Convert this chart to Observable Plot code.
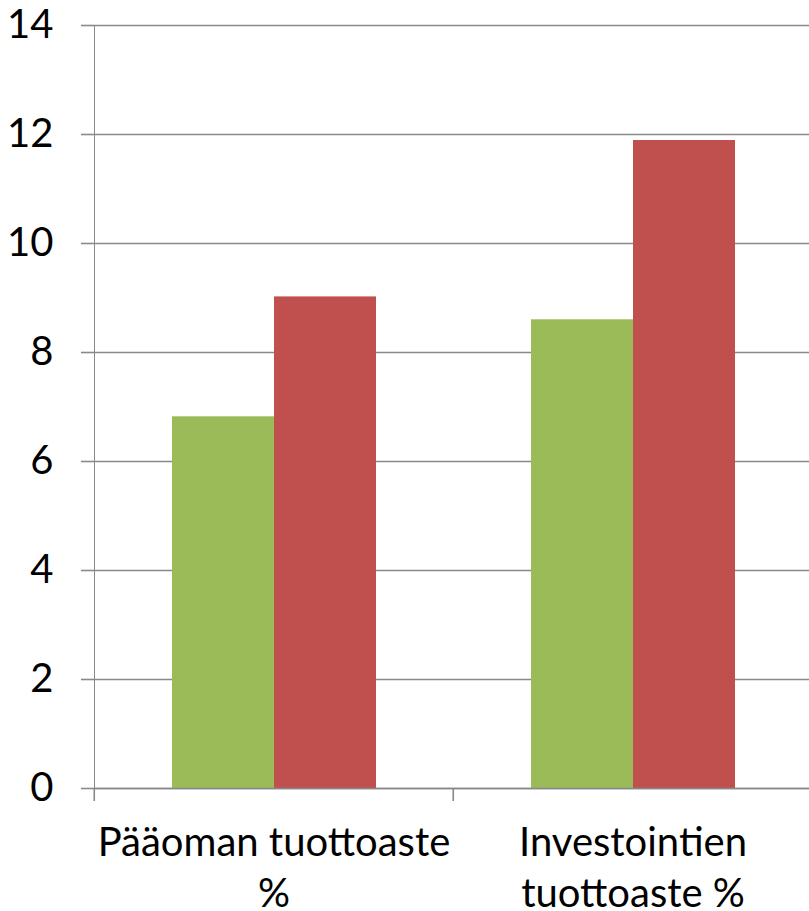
<!DOCTYPE html>
<html>
<head>
<meta charset="utf-8">
<script src="https://cdn.jsdelivr.net/npm/d3@7"></script>
<script src="https://cdn.jsdelivr.net/npm/@observablehq/plot@0.6"></script>
<style>
  html, body { margin: 0; padding: 0; background: #fff; overflow: hidden; }
  #chart svg g[aria-label="y-axis tick label"] { fill: #000; }
  #chart svg g[aria-label="y-axis tick"] { stroke-width: 1.6; }
  #chart svg g[aria-label^="y-axis"] line, #chart svg g[aria-label="y-axis line"] { stroke-width: 1.6; }
</style>
</head>
<body>
<div id="chart"></div>
<script>
const categories = ["Pääoman tuottoaste %", "Investointien tuottoaste %"];
const categoryLabels = ["Pääoman tuottoaste\n%", "Investointien\ntuottoaste %"];
const series = ["Sarja 1", "Sarja 2"];
const seriesColors = ["#9BBB59", "#C0504D"];
const values1 = [6.82, 8.60];
const values2 = [9.02, 11.89];
const yTicks = [0, 2, 4, 6, 8, 10, 12, 14];

const data = categories.flatMap((c, i) => [
  {category: c, series: series[0], value: values1[i]},
  {category: c, series: series[1], value: values2[i]}
]);

const W = 809, H = 911;
const mL = 93, mR = -3;
const bandW = (W - mL - mR) / categories.length;
const gridColor = "#898989";

const chart = Plot.plot({
  width: W,
  height: H,
  marginLeft: mL,
  marginRight: mR,
  marginTop: 25,
  marginBottom: 123,
  style: {fontFamily: "Lato, sans-serif", fontSize: "40px", color: gridColor, background: "#fff"},
  fx: {domain: categories, padding: 0, label: null},
  x: {domain: series, paddingInner: 0, paddingOuter: 0.754, axis: null},
  y: {domain: [0, 14], ticks: yTicks, tickFormat: d => String(d), tickSize: 13, tickPadding: 28, line: true, label: null},
  color: {domain: series, range: seriesColors},
  marks: [
    Plot.gridY(yTicks, {stroke: gridColor, strokeOpacity: 1, strokeWidth: 1.6}),
    Plot.barY(data, {fx: "category", x: "series", y: "value", fill: "series"}),
    Plot.ruleY([0], {stroke: gridColor, strokeWidth: 1.6}),
    Plot.axisFx({anchor: "bottom", tickSize: 0, tickPadding: 31, tickFormat: d => categoryLabels[categories.indexOf(d)], lineHeight: 1.275, label: null, fontSize: 40, fill: "#000"}),
    Plot.axisFx({anchor: "bottom", tickSize: 13, dx: -bandW / 2, tickFormat: () => "", label: null, stroke: gridColor, strokeWidth: 1.6, strokeOpacity: 1})
  ]
});
document.getElementById("chart").appendChild(chart);
</script>
</body>
</html>
